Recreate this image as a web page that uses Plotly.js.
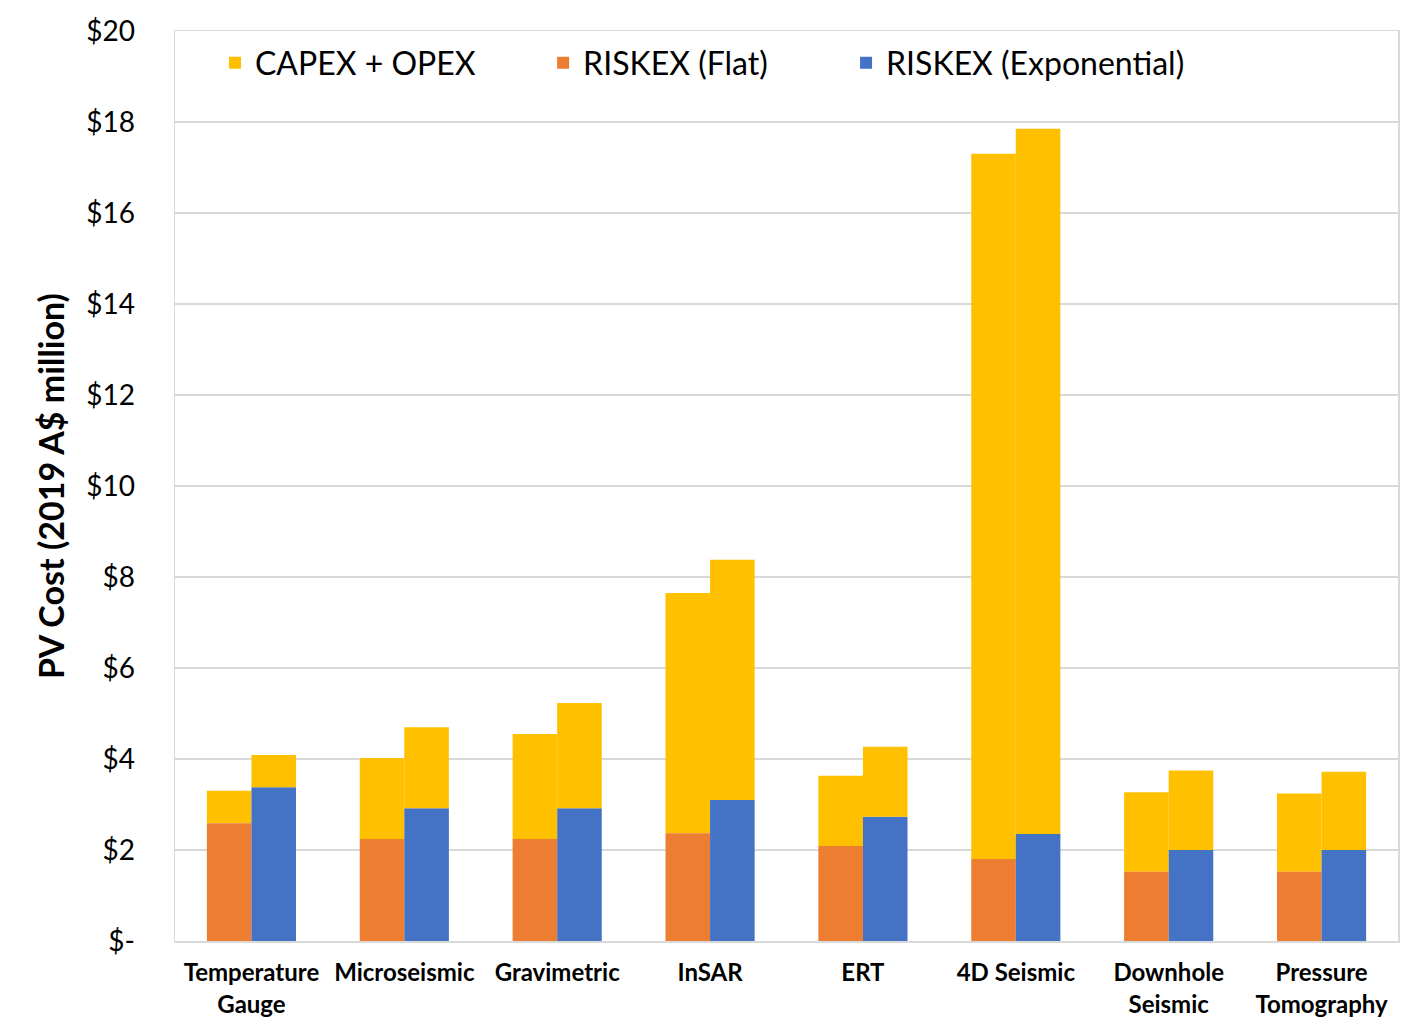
<!DOCTYPE html>
<html>
<head>
<meta charset="utf-8">
<script src="https://cdn.plot.ly/plotly-3.0.1.min.js"></script>
<style>
  html, body { margin: 0; padding: 0; background: #ffffff; }
  #chart { width: 1421px; height: 1032px; }
</style>
</head>
<body>
<div id="chart"></div>
<script>
// Monitoring technologies
const categories = [
  "Temperature<br>Gauge", "Microseismic", "Gravimetric", "InSAR",
  "ERT", "4D Seismic", "Downhole<br>Seismic", "Pressure<br>Tomography"
];

// PV cost, 2019 A$ million
const capexOpex         = [0.71, 1.78, 2.31, 5.28, 1.54, 15.50, 1.75, 1.72];
const riskexFlat        = [2.59, 2.24, 2.24, 2.37, 2.09, 1.80, 1.52, 1.52];
const riskexExponential = [3.38, 2.92, 2.92, 3.10, 2.73, 2.35, 2.00, 2.00];

const yTickVals = [0, 2, 4, 6, 8, 10, 12, 14, 16, 18, 20];
const yTickText = ["$-", "$2", "$4", "$6", "$8", "$10", "$12", "$14", "$16", "$18", "$20"];

const YELLOW = "#FFC000";
const ORANGE = "#ED7D31";
const BLUE = "#4472C4";

const traces = [
  {
    type: "bar", name: "CAPEX + OPEX", x: categories, y: capexOpex, base: riskexFlat,
    offsetgroup: "flat", marker: { color: YELLOW }, legend: "legend", hoverinfo: "skip"
  },
  {
    type: "bar", name: "RISKEX (Flat)", x: categories, y: riskexFlat,
    offsetgroup: "flat", marker: { color: ORANGE }, legend: "legend2", hoverinfo: "skip"
  },
  {
    type: "bar", name: "RISKEX (Exponential)", x: categories, y: riskexExponential,
    offsetgroup: "exp", marker: { color: BLUE }, legend: "legend3", hoverinfo: "skip"
  },
  {
    type: "bar", name: "CAPEX + OPEX", x: categories, y: capexOpex, base: riskexExponential,
    offsetgroup: "exp", marker: { color: YELLOW }, showlegend: false, hoverinfo: "skip"
  }
];

// One legend box per series so each entry sits at its own spot along the top
function legendAt(x) {
  return {
    orientation: "h",
    x: x, y: 0.995,
    xanchor: "left", yanchor: "top",
    font: { size: 32, family: "Lato, sans-serif", color: "#000000" },
    bgcolor: "rgba(0,0,0,0)",
    itemwidth: 30
  };
}

const layout = {
  width: 1421,
  height: 1032,
  margin: { l: 175, r: 23, t: 31, b: 91 },
  paper_bgcolor: "#ffffff",
  plot_bgcolor: "#ffffff",
  barmode: "group",
  bargap: 0.417,
  bargroupgap: 0,
  font: { family: "Lato, 'Open Sans', sans-serif", color: "#000000" },
  showlegend: true,
  legend: legendAt(0.0327),
  legend2: legendAt(0.301),
  legend3: legendAt(0.5487),
  xaxis: {
    type: "category",
    showgrid: false,
    showline: true, mirror: true, linecolor: "#d9d9d9", linewidth: 1.5,
    ticks: "", ticklabelstandoff: 10,
    tickfont: { size: 24, family: "Lato, sans-serif", color: "#000000", weight: "bold" },
    fixedrange: true
  },
  yaxis: {
    range: [0, 20],
    tickvals: yTickVals,
    ticktext: yTickText,
    showgrid: true, gridcolor: "#d9d9d9", gridwidth: 1.5,
    showline: true, mirror: true, linecolor: "#d9d9d9", linewidth: 1.5,
    zeroline: false,
    ticks: "", ticklabelstandoff: 33,
    tickfont: { size: 28, family: "Lato, sans-serif", color: "#000000" },
    title: {
      text: "PV Cost (2019 A$ million)",
      font: { size: 34, family: "Lato, sans-serif", color: "#000000", weight: "bold" },
      standoff: 11
    },
    fixedrange: true
  }
};

Plotly.newPlot("chart", traces, layout, { displayModeBar: false, staticPlot: true });
</script>
</body>
</html>
